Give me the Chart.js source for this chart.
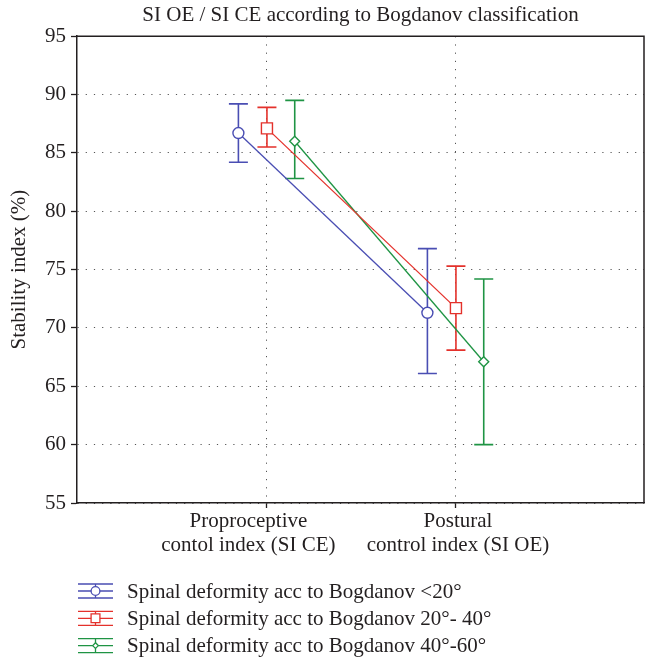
<!DOCTYPE html>
<html>
<head>
<meta charset="utf-8">
<script src="https://cdn.jsdelivr.net/npm/chart.js@4"></script>
<style>
  html, body { margin: 0; padding: 0; background: #fff; overflow: hidden; }
  #wrap { width: 645px; height: 659px; position: relative; }
  canvas { display: block; }
</style>
</head>
<body>
<div id="wrap"><canvas id="myChart"></canvas></div>
<script>
// categories on the x axis (two text lines each)
const categories = [
  ['Proproceptive', 'contol index (SI CE)'],
  ['Postural', 'control index (SI OE)']
];
const seriesNames = [
  'Spinal deformity acc to Bogdanov <20°',
  'Spinal deformity acc to Bogdanov 20°- 40°',
  'Spinal deformity acc to Bogdanov 40°-60°'
];
// means and error bar ends, per group
const meanLt20    = [86.7, 71.3];
const upperLt20   = [89.2, 76.8];
const lowerLt20   = [84.2, 66.1];
const mean20to40  = [87.1, 71.7];
const upper20to40 = [88.9, 75.3];
const lower20to40 = [85.5, 68.1];
const mean40to60  = [86.0, 67.1];
const upper40to60 = [89.5, 74.2];
const lower40to60 = [82.8, 60.0];
const yMin = 55, yMax = 95, yStep = 5;

const ink = '#231f20';
const serif = '"Liberation Serif", "DejaVu Serif", serif';
const fontSize = 21;
const colors  = ['#4a4eb3', '#e4312b', '#1f9444'];
const shifts  = [-0.146, 0.005, 0.152];   // group offset from category centre
const labelShift = [-0.093, 0.016];       // category labels sit a bit off their tick
const markers = ['circle', 'rect', 'rectRot'];
const radii   = [5.5, 7.8, 5];

function makeSet(k, mean, low, high) {
  return {
    label: seriesNames[k],
    data: mean.map((v, i) => ({ x: i + 1 + shifts[k], y: v })),
    low: low,
    high: high,
    borderColor: colors[k],
    backgroundColor: '#fff',
    borderWidth: 1.3,
    pointStyle: markers[k],
    pointRadius: radii[k],
    pointHoverRadius: radii[k],
    pointBorderWidth: 1.4,
    pointBackgroundColor: '#fff',
    pointBorderColor: colors[k],
    tension: 0
  };
}

function drawMarker(ctx, style, x, y, r) {
  ctx.beginPath();
  if (style === 'circle') {
    ctx.arc(x, y, r, 0, Math.PI * 2);
  } else if (style === 'rect') {
    const s = r * Math.SQRT1_2;
    ctx.rect(x - s, y - s, 2 * s, 2 * s);
  } else {
    const s = r * Math.SQRT1_2;
    ctx.moveTo(x - s, y); ctx.lineTo(x, y - s); ctx.lineTo(x + s, y); ctx.lineTo(x, y + s); ctx.closePath();
  }
  ctx.fill();
  ctx.stroke();
}

const errorBars = {
  id: 'errorBars',
  beforeDatasetsDraw(chart) {
    const { ctx, scales: { x, y } } = chart;
    chart.data.datasets.forEach(ds => {
      ctx.save();
      ctx.strokeStyle = ds.borderColor;
      ctx.lineWidth = 1.6;
      ds.data.forEach((p, i) => {
        const px = x.getPixelForValue(p.x);
        const top = y.getPixelForValue(ds.high[i]);
        const bot = y.getPixelForValue(ds.low[i]);
        ctx.beginPath();
        ctx.moveTo(px, top); ctx.lineTo(px, bot);
        ctx.moveTo(px - 9.5, top); ctx.lineTo(px + 9.5, top);
        ctx.moveTo(px - 9.5, bot); ctx.lineTo(px + 9.5, bot);
        ctx.stroke();
      });
      ctx.restore();
    });
  },
  afterDraw(chart) {
    const { ctx, chartArea: a } = chart;
    ctx.save();
    // closing box, top and right
    ctx.strokeStyle = ink;
    ctx.lineWidth = 1.5;
    ctx.beginPath();
    ctx.moveTo(a.left, a.top); ctx.lineTo(a.right, a.top); ctx.lineTo(a.right, a.bottom);
    ctx.stroke();
    // legend
    ctx.font = fontSize + 'px ' + serif;
    ctx.textBaseline = 'middle';
    chart.data.datasets.forEach((ds, k) => {
      const cy = a.bottom + 88 + k * 27.3;
      const x0 = a.left + 1, x1 = x0 + 35, xc = (x0 + x1) / 2;
      ctx.strokeStyle = ds.borderColor;
      ctx.fillStyle = '#fff';
      ctx.lineWidth = 1.3;
      ctx.beginPath();
      [-7, 0, 7].forEach(d => { ctx.moveTo(x0, cy + d); ctx.lineTo(x1, cy + d); });
      ctx.moveTo(xc, cy - 7); ctx.lineTo(xc, cy + 7);
      ctx.stroke();
      drawMarker(ctx, ds.pointStyle, xc, cy, ds.pointRadius * 0.8);
      ctx.fillStyle = ink;
      ctx.fillText(ds.label, a.left + 50, cy + 1);
    });
    ctx.restore();
  }
};

const gridStyle = {
  color: '#555',
  lineWidth: 1,
  tickLength: 6,
  tickColor: ink,
  tickWidth: 1.3,
  tickBorderDash: []
};
const borderStyle = { display: true, color: ink, width: 1.5, dash: [1.2, 7] };
const noPad = s => { s.paddingLeft = 0; s.paddingRight = 0; };

let chart = new Chart(document.getElementById('myChart').getContext('2d'), {
  type: 'line',
  data: {
    datasets: [
      makeSet(0, meanLt20, lowerLt20, upperLt20),
      makeSet(1, mean20to40, lower20to40, upper20to40),
      makeSet(2, mean40to60, lower40to60, upper40to60)
    ]
  },
  options: {
    responsive: true,
    maintainAspectRatio: false,
    animation: false,
    layout: { autoPadding: false, padding: { left: 0, right: 1, top: 0, bottom: 96 } },
    plugins: {
      legend: { display: false },
      tooltip: { enabled: false },
      title: {
        display: true,
        fullSize: false,
        text: 'SI OE / SI CE according to Bogdanov classification',
        color: ink,
        font: { family: serif, size: fontSize, weight: 'normal' },
        padding: { top: 3, bottom: 8 }
      }
    },
    scales: {
      x: {
        type: 'linear',
        weight: 0,
        min: 0,
        max: 3,
        afterBuildTicks: s => { s.ticks = categories.map((c, i) => ({ value: i + 1 })); },
        afterFit: s => { s.height = 5; noPad(s); },
        ticks: { display: false },
        grid: Object.assign({}, gridStyle, { tickLength: 5 }),
        border: borderStyle
      },
      xl: {
        type: 'linear',
        position: 'bottom',
        weight: 1,
        min: 0,
        max: 3,
        afterBuildTicks: s => { s.ticks = categories.map((c, i) => ({ value: i + 1 + labelShift[i] })); },
        afterFit: s => { s.height = 55; noPad(s); },
        ticks: {
          callback: (v, i) => categories[i],
          color: ink,
          font: { family: serif, size: fontSize, lineHeight: 1.14 },
          padding: 2,
          maxRotation: 0,
          autoSkip: false
        },
        grid: { display: false, drawTicks: false },
        border: { display: false }
      },
      y: {
        min: yMin,
        max: yMax,
        afterFit: s => { s.width = 77; },
        ticks: {
          stepSize: yStep,
          color: ink,
          font: { family: serif, size: fontSize },
          padding: 5
        },
        grid: gridStyle,
        border: borderStyle,
        title: {
          display: true,
          text: 'Stability index (%)',
          color: ink,
          font: { family: serif, size: fontSize },
          padding: { top: 7, bottom: 0 }
        }
      }
    }
  },
  plugins: [errorBars]
});
</script>
</body>
</html>
